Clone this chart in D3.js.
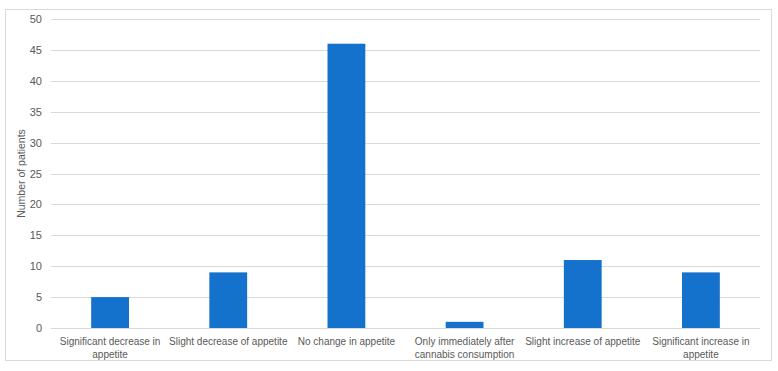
<!DOCTYPE html>
<html>
<head>
<meta charset="utf-8">
<script src="https://cdn.jsdelivr.net/npm/d3@7"></script>
<style>
  body { margin: 0; background: #fff; }
  text { font-family: "Liberation Sans", Arial, sans-serif; }
</style>
</head>
<body>
<svg id="chart"></svg>
<script>
// data
const categories = [
    ["Significant decrease in", "appetite"],
    ["Slight decrease of appetite"],
    ["No change in appetite"],
    ["Only immediately after", "cannabis consumption"],
    ["Slight increase of appetite"],
    ["Significant increase in", "appetite"]
];
const patients = [5, 9, 46, 1, 11, 9];
const yTicks = [0, 5, 10, 15, 20, 25, 30, 35, 40, 45, 50];

const width = 778;
const height = 371;
const marginTop = 19;
const marginRight = 18;
const marginBottom = 43;
const marginLeft = 51;

const svg = d3.select("#chart")
    .attr("width", width)
    .attr("height", height);

// outer frame
svg.append("rect")
    .attr("x", 5.5).attr("y", 9.5)
    .attr("width", 766).attr("height", 351)
    .attr("fill", "#fff")
    .attr("stroke", "#d9d9d9");

const x = d3.scaleBand()
    .domain(d3.range(categories.length))
    .range([marginLeft, width - marginRight])
    .paddingInner(0.68)
    .paddingOuter(0.34);

const y = d3.scaleLinear()
    .domain([0, 50])
    .range([height - marginBottom, marginTop]);

// gridlines
svg.append("g")
    .selectAll("line")
    .data(yTicks)
    .join("line")
    .attr("x1", marginLeft)
    .attr("x2", width - marginRight)
    .attr("y1", d => Math.round(y(d)) + 0.5)
    .attr("y2", d => Math.round(y(d)) + 0.5)
    .attr("stroke", "#d9d9d9");

// y axis labels
const yAxis = svg.append("g")
    .attr("transform", `translate(${marginLeft},0)`)
    .call(d3.axisLeft(y).tickValues(yTicks).tickSize(0).tickPadding(9));
yAxis.select(".domain").remove();
yAxis.selectAll("text")
    .attr("fill", "#595959")
    .style("font-size", "11px")
    .style("font-family", "Liberation Sans, Arial, sans-serif");

// bars
svg.append("g")
    .selectAll("rect")
    .data(patients)
    .join("rect")
    .attr("x", (d, i) => x(i))
    .attr("width", x.bandwidth())
    .attr("y", d => y(d))
    .attr("height", d => y(0) - y(d))
    .attr("fill", "#1572cc");

// category labels
svg.append("g")
    .selectAll("text")
    .data(categories)
    .join("text")
    .attr("x", (d, i) => x(i) + x.bandwidth() / 2)
    .attr("y", y(0) + 17)
    .attr("text-anchor", "middle")
    .attr("fill", "#595959")
    .style("font-size", "10px")
    .selectAll("tspan")
    .data(d => d)
    .join("tspan")
    .attr("x", function () { return d3.select(this.parentNode).attr("x"); })
    .attr("dy", (d, i) => i == 0 ? 0 : 13)
    .text(d => d);

// y title
svg.append("text")
    .attr("transform", `translate(25,${(y(0) + y(50)) / 2}) rotate(-90)`)
    .attr("text-anchor", "middle")
    .attr("fill", "#595959")
    .style("font-size", "10.5px")
    .text("Number of patients");
</script>
</body>
</html>
